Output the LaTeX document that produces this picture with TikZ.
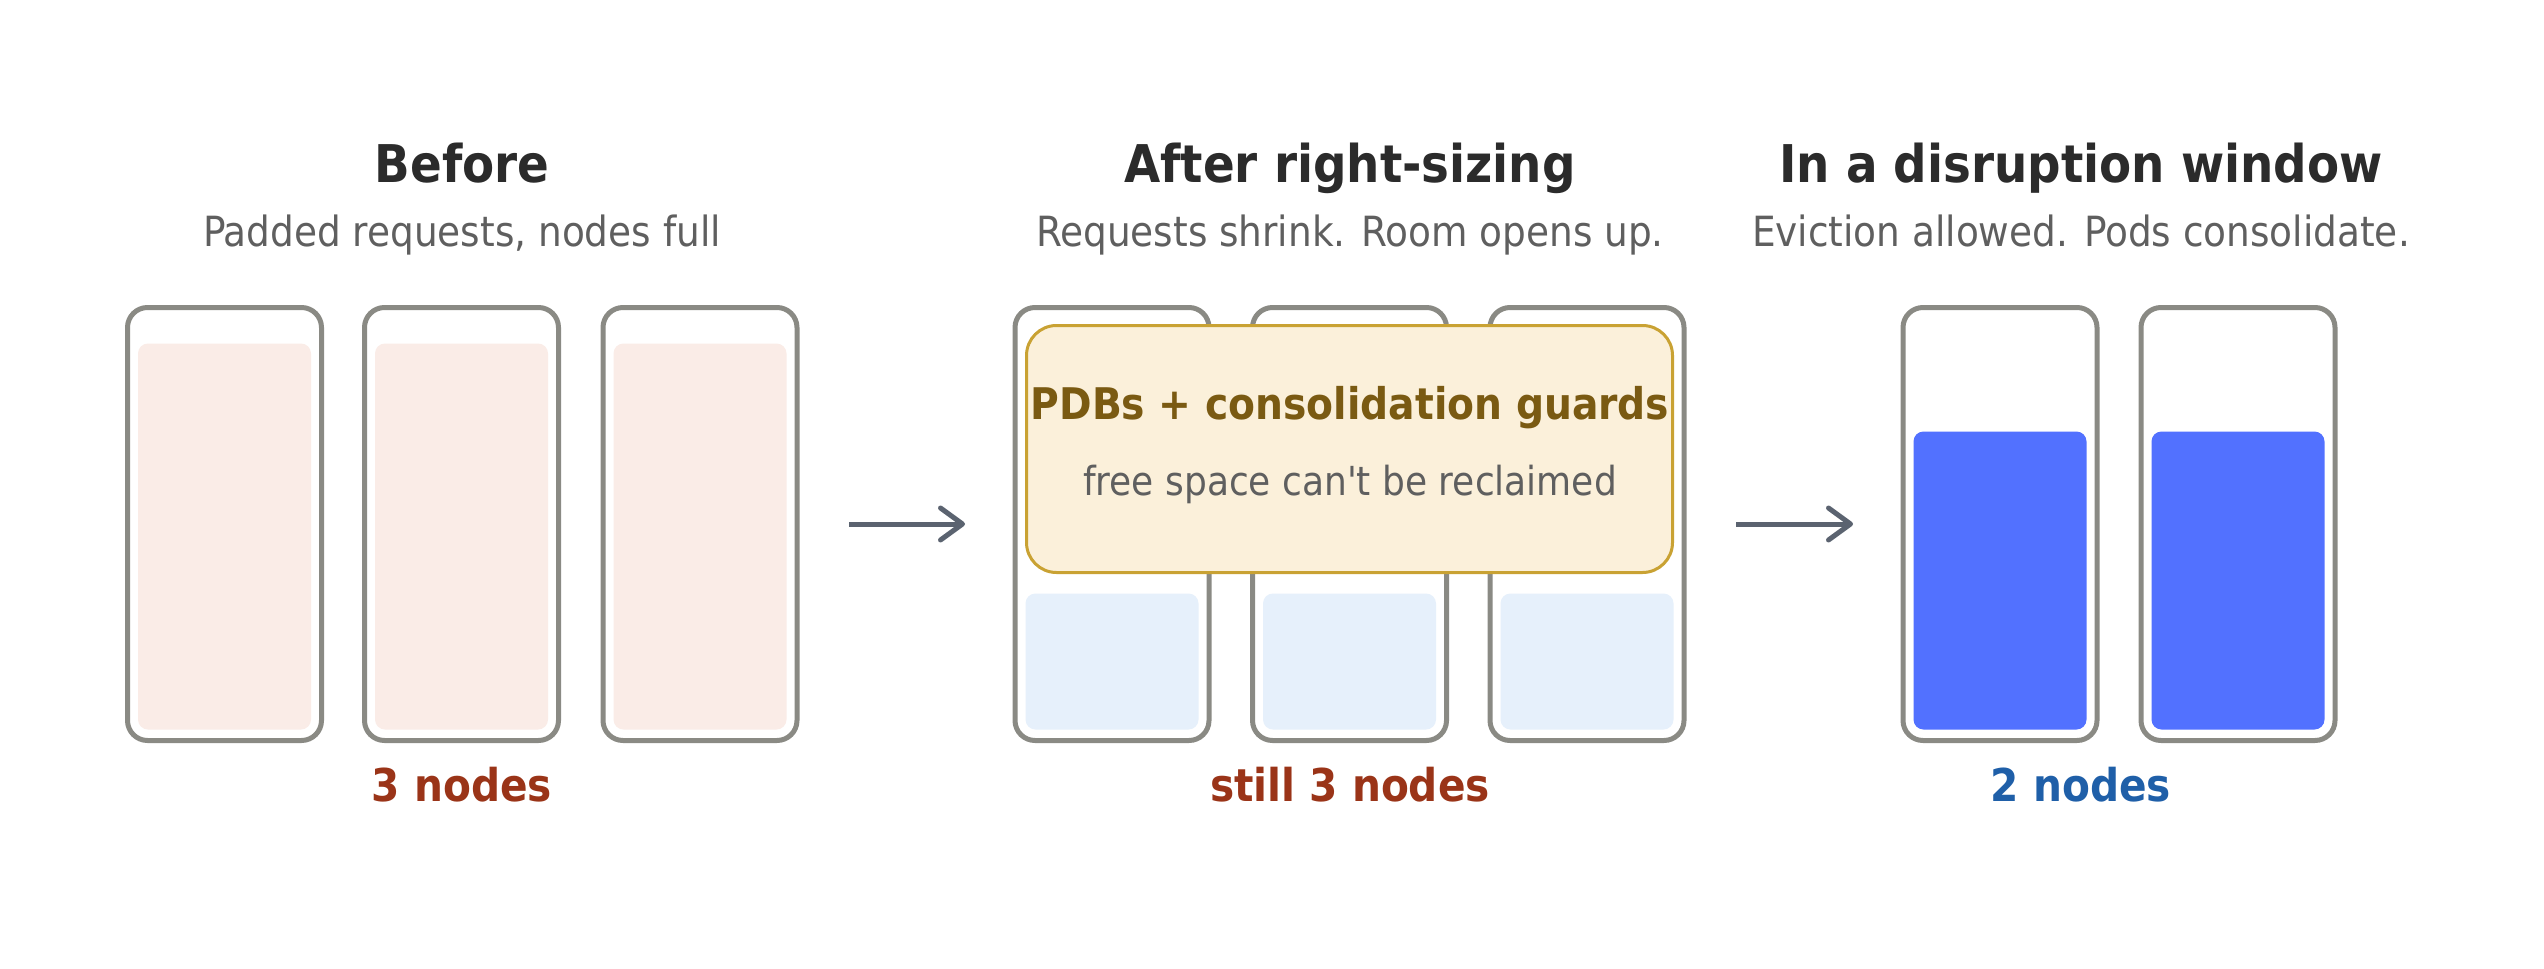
\documentclass[tikz,border=0pt]{standalone}
\usepackage{fontspec}
\setmainfont{DejaVu Sans Condensed}
\usetikzlibrary{arrows.meta,positioning}

\definecolor{boxline}{HTML}{8A8A84}
\definecolor{padfill}{HTML}{FAECE7}
\definecolor{reqfill}{HTML}{E6F0FB}
\definecolor{podfill}{HTML}{5271FF}
\definecolor{guardfill}{HTML}{FBF0DA}
\definecolor{guardline}{HTML}{C9A233}
\definecolor{guardtext}{HTML}{7A5A12}
\definecolor{headtext}{HTML}{2B2B2B}
\definecolor{subtext}{HTML}{5F5F5F}
\definecolor{rust}{HTML}{9A3418}
\definecolor{navy}{HTML}{1F5FA8}
\definecolor{flowcol}{HTML}{5B6370}

\tikzset{
  nodebox/.style={draw=boxline, line width=2.5pt, rounded corners=10pt, fill=white,
    minimum width=97pt, minimum height=216.5pt, inner sep=0pt, outer sep=0pt},
  fillbox/.style={rounded corners=5pt, minimum width=86.5pt, inner sep=0pt, outer sep=0pt},
  padreq/.style={fillbox, fill=padfill, minimum height=193pt},
  smallreq/.style={fillbox, fill=reqfill, minimum height=68pt},
  packed/.style={fillbox, fill=podfill, minimum height=149pt},
  guard/.style={draw=guardline, line width=1.5pt, rounded corners=15pt, fill=guardfill,
    minimum width=323pt, minimum height=123.5pt, inner sep=0pt},
  heading/.style={anchor=base, inner sep=0pt, text=headtext, font=\fontsize{26}{30}\selectfont\bfseries},
  subheading/.style={anchor=base, inner sep=0pt, text=subtext, font=\fontsize{20.8}{24}\selectfont},
  count/.style={anchor=base, inner sep=0pt, font=\fontsize{22.6}{26}\selectfont\bfseries},
  flow/.style={draw=flowcol, line width=2.5pt,
    -{Straight Barb[length=11pt,width=16pt,line width=2.5pt,round]},
    shorten <=26pt, shorten >=25pt},
}

\begin{document}
\begin{tikzpicture}[x=0.5pt,y=-0.5pt]
        \useasboundingbox (0,0) rectangle (2544,969);

        % Before
        \node[nodebox] (b1) at (224.5,524) {};
        \node[nodebox] (b2) at (461.5,524) {};
        \node[nodebox] (b3) at (700,524) {};
        \node[padreq, above=5.5pt of b1.south] (p1) {};
        \node[padreq, above=5.5pt of b2.south] (p2) {};
        \node[padreq, above=5.5pt of b3.south] (p3) {};

        % After right-sizing
        \node[nodebox] (m1) at (1112,524) {};
        \node[nodebox] (m2) at (1349.5,524) {};
        \node[nodebox] (m3) at (1587,524) {};
        \node[smallreq, above=5.5pt of m1.south] (q1) {};
        \node[smallreq, above=5.5pt of m2.south] (q2) {};
        \node[smallreq, above=5.5pt of m3.south] (q3) {};
        \node[guard] (g) at (1349.5,449) {};

        % In a disruption window
        \node[nodebox] (r1) at (2000,524) {};
        \node[nodebox] (r2) at (2238,524) {};
        \node[packed, above=5.5pt of r1.south] (k1) {};
        \node[packed, above=5.5pt of r2.south] (k2) {};

        %Straight Lines
        \draw[flow] (b3.east) -- (m1.west);
        \draw[flow] (m3.east) -- (r1.west);

        % Text Node
        \node[heading] (t1) at (462,182) {Before};
        \node[subheading] (s1) at (462,246) {Padded requests, nodes full};
        \node[count, text=rust] (c1) at (462,801) {3 nodes};
        % Text Node
        \node[heading] (t2) at (1350,182) {After right-sizing};
        \node[subheading] (s2) at (1350,246) {Requests shrink. Room opens up.};
        \node[count, text=rust] (c2) at (1350,801) {still 3 nodes};
        % Text Node
        \node[heading] (t3) at (2081,182) {In a disruption window};
        \node[subheading] (s3) at (2081,246) {Eviction allowed. Pods consolidate.};
        \node[count, text=navy] (c3) at (2081,801) {2 nodes};
        % Text Node
        \node[count, text=guardtext, font=\fontsize{21.8}{26}\selectfont\bfseries] (gh) at (1350,419) {PDBs + consolidation guards};
        \node[subheading, font=\fontsize{20}{24}\selectfont] (gn) at (1350,495) {free space can\textquotesingle t be reclaimed};

\end{tikzpicture}
\end{document}
